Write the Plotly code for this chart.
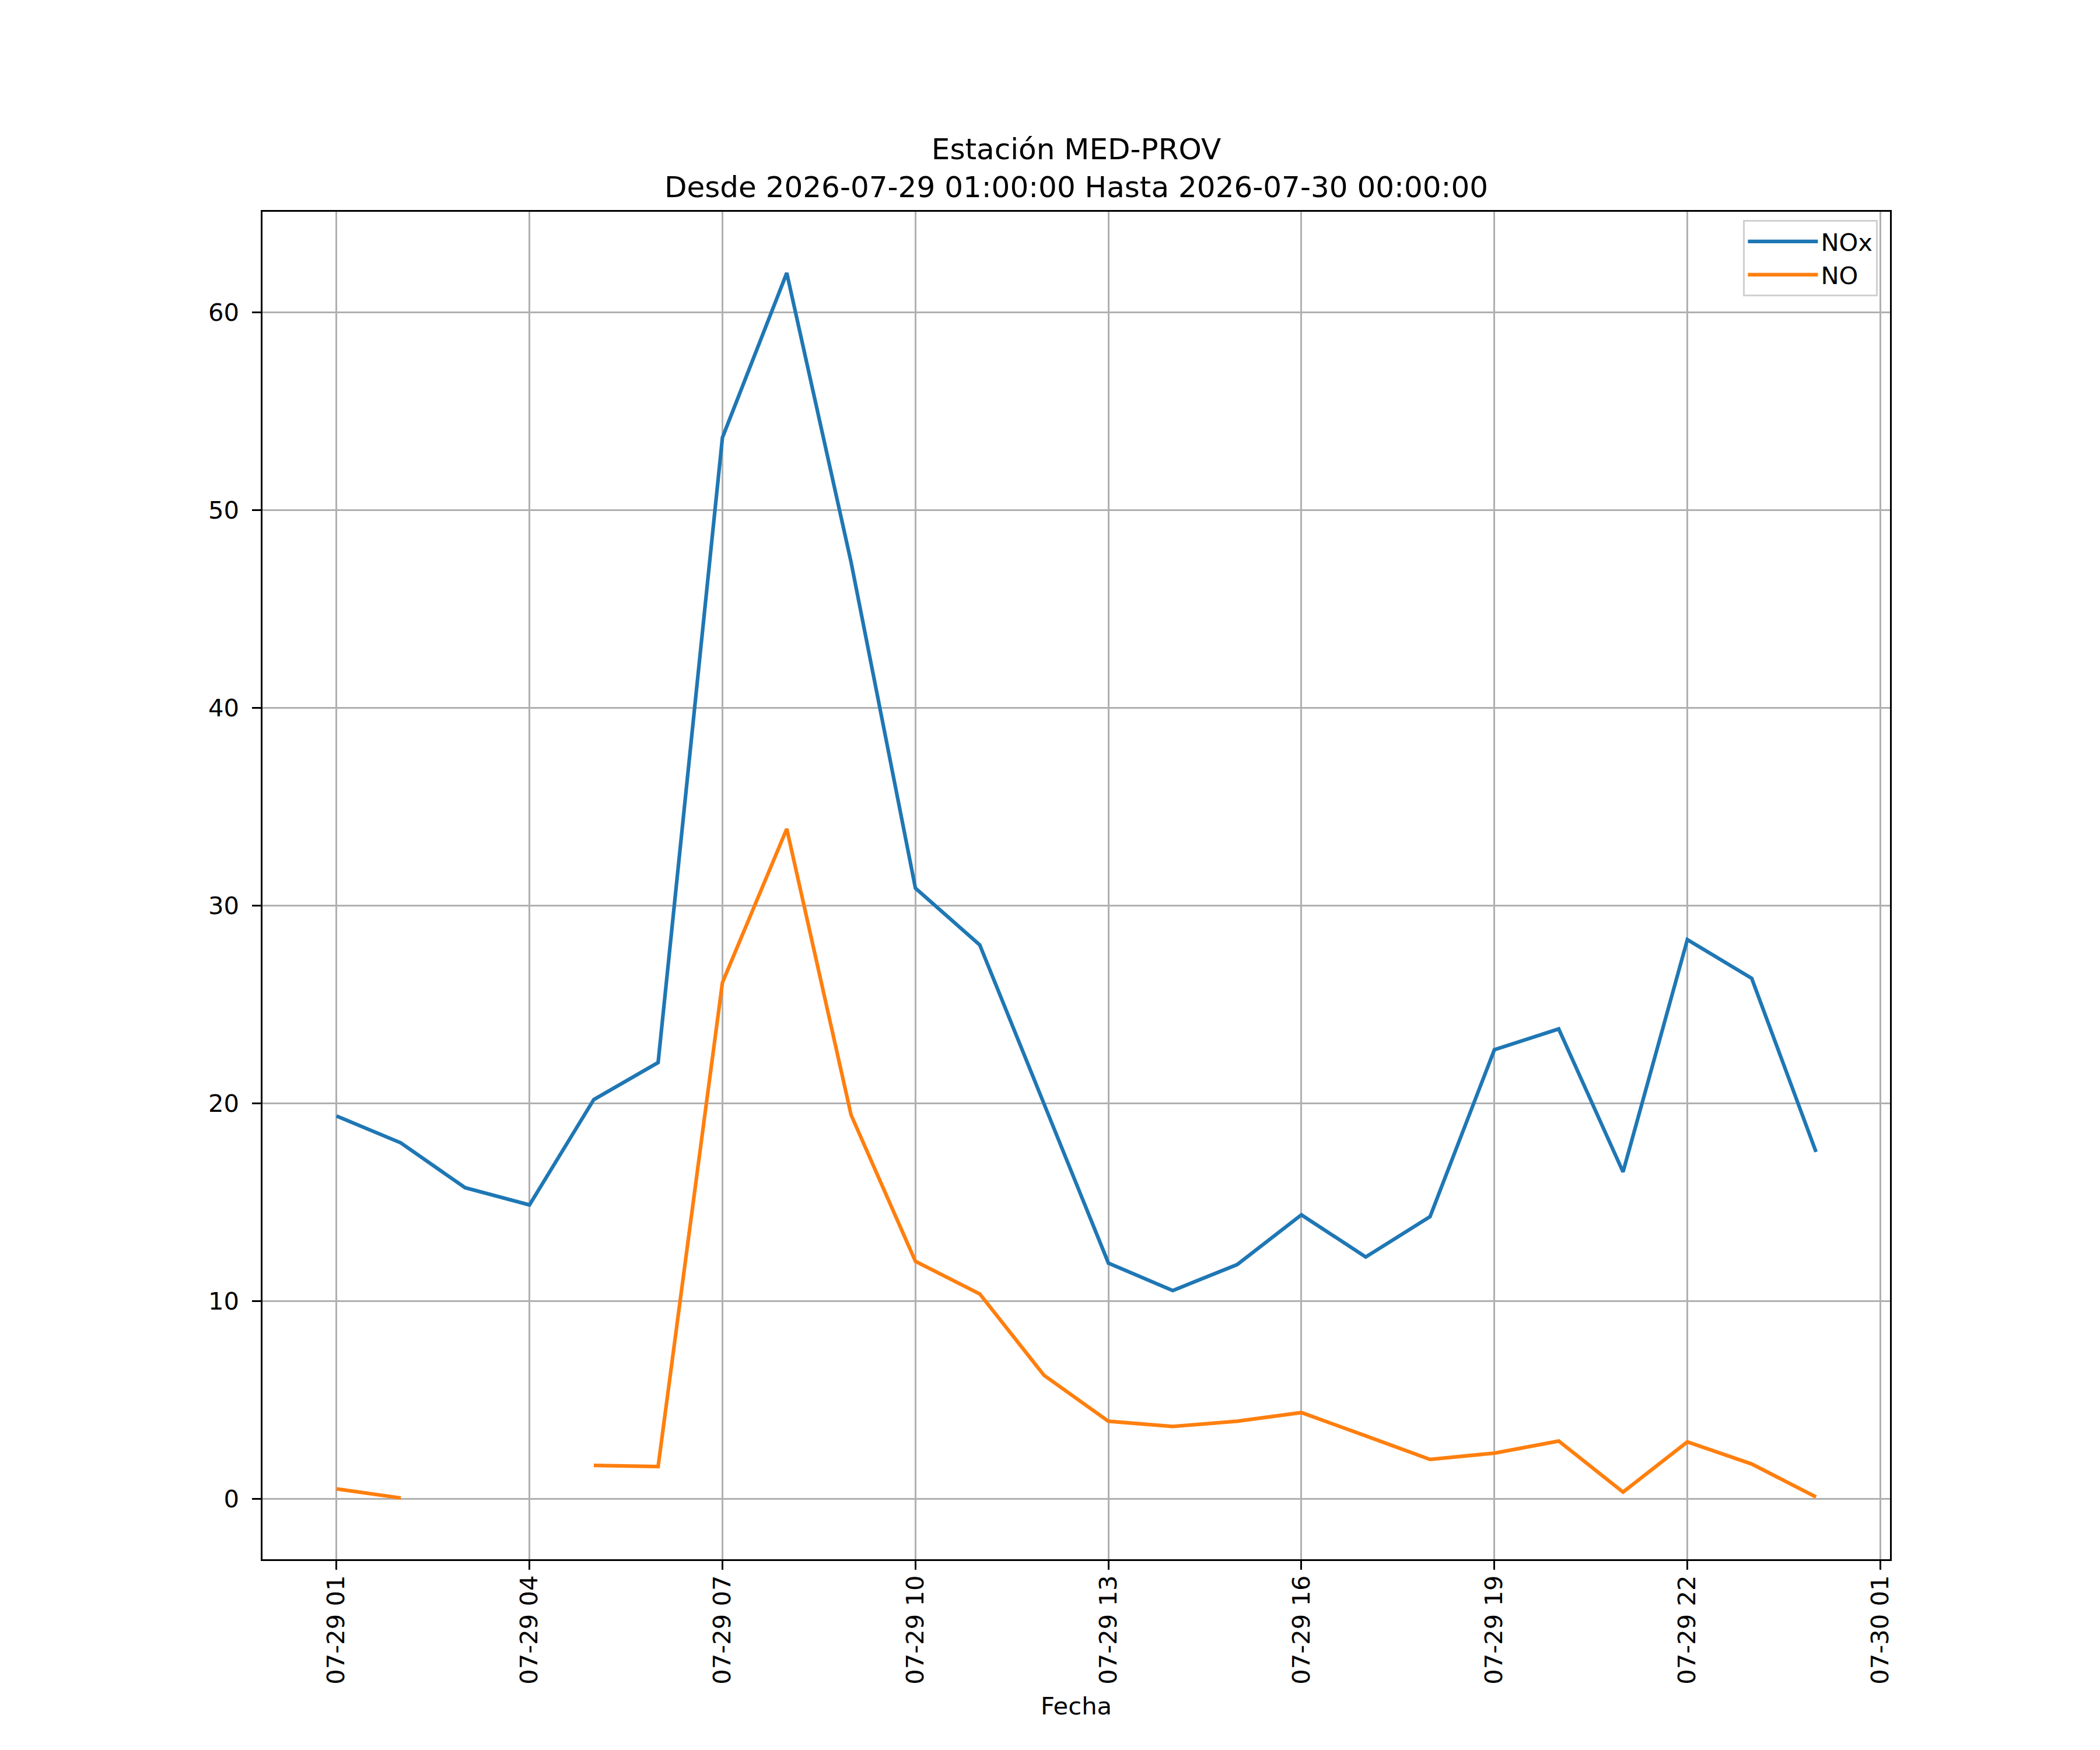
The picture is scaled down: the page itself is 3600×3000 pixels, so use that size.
import pandas as pd
import plotly.graph_objects as go

# hourly readings for station MED-PROV
horas = pd.date_range("2026-07-29 01:00", "2026-07-30 00:00", freq="h")

nox = [19.35, 17.99, 15.72, 14.85, 20.18, 22.05, 53.66, 61.98, 47.35, 30.87,
       28.0, 20.0, 11.91, 10.52, 11.83, 14.35, 12.22, 14.26, 22.7, 23.75,
       16.52, 28.27, 26.31, 17.53]
no = [0.49, 0.03, None, None, 1.68, 1.62, 26.1, 33.87, 19.4, 12.0,
      10.35, 6.23, 3.91, 3.65, 3.91, 4.35, 3.17, 1.98, 2.30, 2.91,
      0.33, 2.87, 1.75, 0.08]

titulo = "Estación MED-PROV<br>Desde 2026-07-29 01:00:00 Hasta 2026-07-30 00:00:00"

PT = 300 / 72  # px per point at 300 dpi
FONT = "DejaVu Sans"

fig = go.Figure()
fig.add_trace(go.Scatter(x=horas, y=nox, mode="lines", name="NOx",
                         line=dict(color="#1f77b4", width=1.5 * PT)))
fig.add_trace(go.Scatter(x=horas, y=no, mode="lines", name="NO",
                         line=dict(color="#ff7f0e", width=1.5 * PT)))

# matplotlib-style 5% margins
span_x = horas[-1] - horas[0]
x_range = [horas[0] - 0.05 * span_x, horas[-1] + 0.05 * span_x]
vals = [v for v in nox + no if v is not None]
span_y = max(vals) - min(vals)
y_range = [min(vals) - 0.05 * span_y, max(vals) + 0.05 * span_y]

axis_common = dict(
    showline=True, mirror=True, linecolor="black", linewidth=0.8 * PT,
    showgrid=True, gridcolor="#b0b0b0", gridwidth=0.8 * PT,
    ticks="outside", ticklen=3.5 * PT, tickwidth=0.8 * PT, tickcolor="black",
    tickfont=dict(family=FONT, size=10 * PT, color="black"),
    zeroline=False,
)

fig.update_layout(
    width=3600, height=3000,
    margin=dict(l=442, r=368, t=355, b=335),
    paper_bgcolor="white", plot_bgcolor="white",
    font=dict(family=FONT, size=10 * PT, color="black"),
    title=dict(text=titulo, x=0.5, xanchor="center", xref="paper",
               y=1, yref="paper", yanchor="bottom", pad=dict(b=90),
               font=dict(family=FONT, size=12 * PT, color="black")),
    xaxis=dict(axis_common, type="date", range=x_range,
               tick0="2026-07-29 01:00", dtick=3 * 3600 * 1000,
               tickformat="%m-%d %H", tickangle=-90,
               ticklabelstandoff=-7,
               title=dict(text="Fecha", standoff=24,
                          font=dict(family=FONT, size=10 * PT))),
    yaxis=dict(axis_common, range=y_range, dtick=10, tick0=0,
               ticklabelstandoff=14),
    legend=dict(x=0.9925, y=0.994, xanchor="right", yanchor="top",
                bgcolor="rgba(255,255,255,0.8)", bordercolor="#d0d0d0",
                borderwidth=0.8 * PT, itemwidth=120,
                font=dict(family=FONT, size=10 * PT, color="black")),
    showlegend=True,
)

fig.write_html("out.html")
